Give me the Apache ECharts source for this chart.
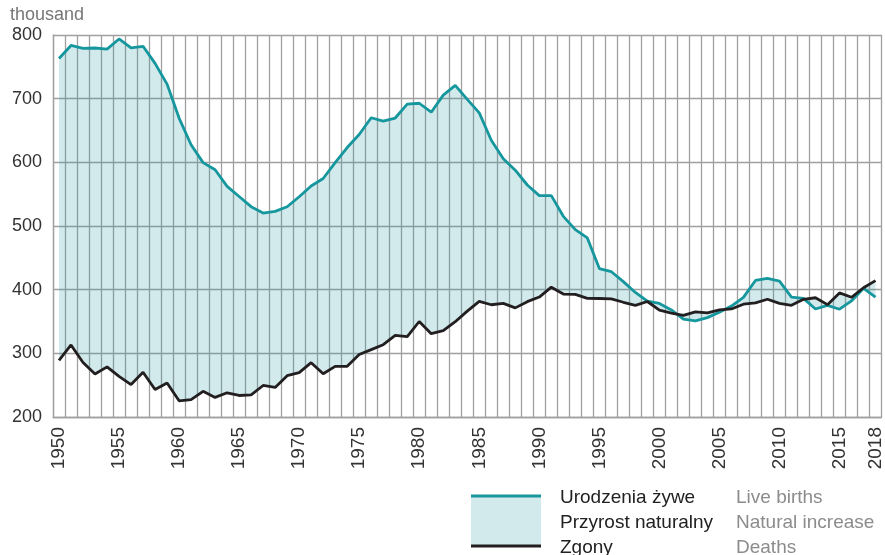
<!DOCTYPE html>
<html>
<head>
<meta charset="utf-8">
<script src="https://cdn.jsdelivr.net/npm/echarts@6/dist/echarts.min.js"></script>
<style>html,body{margin:0;padding:0;background:#fff;}#c{width:885px;height:555px;}</style>
</head>
<body>
<div id="c"></div>
<script>
const years = [];
for (let y = 1950; y <= 2018; y++) years.push(String(y));

const liveBirths = [
  763.1, 783.6, 778.9, 779.6, 777.9, 793.8, 779.8, 782.3, 755.5, 722.8,
  669.5, 627.6, 599.5, 588.3, 562.3, 546.4, 530.4, 520.4, 523.0, 530.2,
  546.0, 562.8, 574.6, 599.4, 623.2, 643.8, 670.0, 664.7, 669.6, 691.4,
  692.8, 678.7, 705.6, 720.8, 699.0, 677.6, 634.7, 605.5, 587.7, 564.4,
  547.7, 547.7, 515.2, 494.3, 481.3, 433.1, 428.2, 412.6, 395.6, 382.0,
  378.3, 368.2, 353.8, 351.1, 356.1, 364.4, 374.2, 387.9, 414.5, 417.6,
  413.3, 388.4, 386.3, 369.6, 375.2, 369.3, 382.3, 402.0, 388.2
];

const deaths = [
  289.0, 313.2, 285.6, 267.6, 278.8, 263.8, 250.9, 270.2, 243.1, 253.4,
  225.4, 227.4, 240.4, 230.8, 238.0, 233.8, 234.9, 249.5, 246.5, 264.9,
  269.8, 285.3, 267.9, 279.6, 279.7, 298.1, 305.8, 313.6, 328.2, 326.2,
  350.0, 330.8, 335.6, 349.7, 366.3, 381.5, 376.3, 378.4, 371.4, 381.2,
  388.4, 403.9, 393.1, 392.5, 386.4, 386.1, 385.5, 380.2, 375.3, 381.4,
  368.0, 363.2, 359.5, 365.2, 363.5, 368.3, 369.7, 377.2, 379.4, 384.9,
  378.5, 375.5, 384.8, 387.3, 376.5, 394.9, 388.0, 403.0, 414.2
];

const yMin = 200, yMax = 800, yStep = 100;

const naturalIncrease = liveBirths.map((b, i) => +(b - deaths[i]).toFixed(1));

const teal = '#16979e';
const dark = '#231f20';
const gridCol = '#a0a0a0';
const ff = 'Liberation Sans, Arial, sans-serif';

const chart = echarts.init(document.getElementById('c'), null, {renderer: 'canvas'});
chart.setOption({
  animation: false,
  backgroundColor: '#fff',
  textStyle: {fontFamily: ff},
  grid: {left: 53, right: 1, top: 35, bottom: 138, containLabel: false},
  xAxis: {
    type: 'category',
    data: years,
    boundaryGap: true,
    axisLine: {show: true, lineStyle: {color: gridCol, width: 1.3}},
    axisTick: {show: false},
    splitLine: {show: true, interval: 0, lineStyle: {color: gridCol, width: 1.3}},
    axisLabel: {
      rotate: 90,
      margin: 10,
      fontSize: 19,
      color: '#333',
      interval: function (idx, val) { return idx % 5 === 0 || val === '2018'; }
    }
  },
  yAxis: {
    type: 'value',
    min: yMin, max: yMax, interval: yStep,
    axisLine: {show: true, lineStyle: {color: gridCol, width: 1.3}},
    axisTick: {show: false},
    splitLine: {show: true, lineStyle: {color: gridCol, width: 1.3}},
    axisLabel: {fontSize: 18, color: '#333', margin: 11}
  },
  graphic: [
    {type: 'text', left: 10, top: 6, style: {text: 'thousand', fontSize: 18, fill: '#777', fontFamily: ff}},
    {type: 'rect', shape: {x: 471, y: 496, width: 70, height: 50}, style: {fill: '#d2eaec'}},
    {type: 'line', shape: {x1: 471, y1: 496, x2: 541, y2: 496}, style: {stroke: teal, lineWidth: 3}},
    {type: 'line', shape: {x1: 471, y1: 546, x2: 541, y2: 546}, style: {stroke: dark, lineWidth: 3}},
    {type: 'text', x: 560, y: 498, style: {text: 'Urodzenia żywe', fontSize: 19, fill: '#222', verticalAlign: 'middle', fontFamily: ff}},
    {type: 'text', x: 560, y: 523, style: {text: 'Przyrost naturalny', fontSize: 19, fill: '#222', verticalAlign: 'middle', fontFamily: ff}},
    {type: 'text', x: 560, y: 548, style: {text: 'Zgony', fontSize: 19, fill: '#222', verticalAlign: 'middle', fontFamily: ff}},
    {type: 'text', x: 736, y: 498, style: {text: 'Live births', fontSize: 19, fill: '#8c8c8c', verticalAlign: 'middle', fontFamily: ff}},
    {type: 'text', x: 736, y: 523, style: {text: 'Natural increase', fontSize: 19, fill: '#8c8c8c', verticalAlign: 'middle', fontFamily: ff}},
    {type: 'text', x: 736, y: 548, style: {text: 'Deaths', fontSize: 19, fill: '#8c8c8c', verticalAlign: 'middle', fontFamily: ff}}
  ],
  series: [
    {
      name: 'base', type: 'line', data: deaths, stack: 'fill', stackStrategy: 'all',
      symbol: 'none', lineStyle: {opacity: 0, width: 0}, silent: true, z: 1
    },
    {
      name: 'Przyrost naturalny', type: 'line', data: naturalIncrease, stack: 'fill', stackStrategy: 'all',
      symbol: 'none', lineStyle: {opacity: 0, width: 0},
      areaStyle: {color: 'rgba(30,150,160,0.2)', opacity: 1}, silent: true, z: 1
    },
    {
      name: 'Urodzenia żywe', type: 'line', data: liveBirths, symbol: 'none',
      lineStyle: {color: teal, width: 2.8}, z: 3
    },
    {
      name: 'Zgony', type: 'line', data: deaths, symbol: 'none',
      lineStyle: {color: dark, width: 2.8}, z: 4
    }
  ]
});
</script>
</body>
</html>
